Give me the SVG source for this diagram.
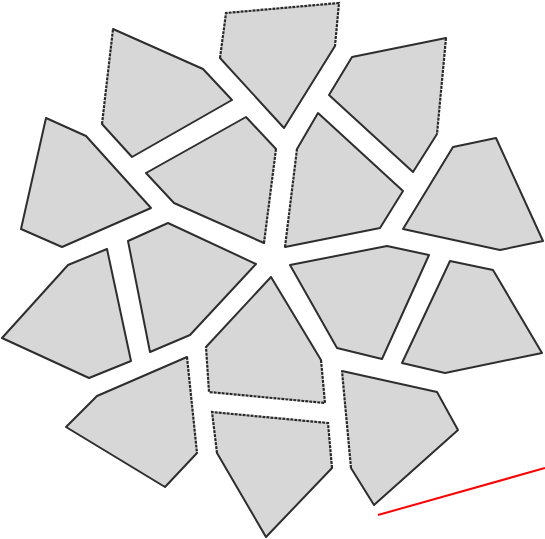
<svg xmlns="http://www.w3.org/2000/svg" width="545" height="539" viewBox="0 0 545 539">
<defs>
<style>
.f{fill:#d7d7d7;stroke:none}
.s{fill:none;stroke:#2e2e2e;stroke-width:2;stroke-linejoin:round;stroke-linecap:round}
.d{fill:none;stroke:#2a2a2a;stroke-width:2.2;stroke-dasharray:3 1}
</style>
</defs>
<rect width="545" height="539" fill="#fff"/>
<g id="A"><path class="f" d="M113,29 L203,69 L232,100 L132,157 L102,124 Z"/><path class="s" d="M113,29 L203,69 L232,100 L132,157 L102,124"/><path class="d" d="M102,124 L113,29"/></g>
<g id="B"><path class="f" d="M46,118 L86,136 L151,208 L62,247 L21,229 Z"/><path class="s" d="M46,118 L86,136 L151,208 L62,247 L21,229 Z"/></g>
<g id="C"><path class="f" d="M246,117 L276,149 L264,243 L174,203 L146,173 Z"/><path class="s" d="M264,243 L174,203 L146,173 L246,117 L276,149"/><path class="d" d="M276,149 L264,243"/></g>
<g id="D"><path class="f" d="M226,13 L339,3 L335,46 L284,128 L220,58 Z"/><path class="s" d="M335,46 L284,128 L220,58"/><path class="d" d="M220,58 L226,13 L339,3 L335,46"/></g>
<g id="E"><path class="f" d="M352,57 L446,38 L437,134 L413,172 L329,95 Z"/><path class="s" d="M437,134 L413,172 L329,95 L352,57 L446,38"/><path class="d" d="M446,38 L437,134"/></g>
<g id="F"><path class="f" d="M318,113 L403,191 L380,228 L285,247 L297,149 Z"/><path class="s" d="M297,149 L318,113 L403,191 L380,228 L285,247"/><path class="d" d="M285,247 L297,149"/></g>
<g id="G"><path class="f" d="M453,147 L496,138 L543,241 L500,250 L403,229 Z"/><path class="s" d="M453,147 L496,138 L543,241 L500,250 L403,229 Z"/></g>
<g id="H"><path class="f" d="M107,249 L68,265 L2,338 L89,378 L131,361 Z"/><path class="s" d="M107,249 L68,265 L2,338 L89,378 L131,361 Z"/></g>
<g id="I"><path class="f" d="M128,241 L168,223 L256,264 L190,335 L150,352 Z"/><path class="s" d="M128,241 L168,223 L256,264 L190,335 L150,352 Z"/></g>
<g id="J"><path class="f" d="M187,357 L197,453 L165,487 L66,427 L97,396 Z"/><path class="s" d="M197,453 L165,487 L66,427 L97,396 L187,357"/><path class="d" d="M187,357 L197,453"/></g>
<g id="K"><path class="f" d="M271,277 L321,360 L325,403 L209,392 L206,347 Z"/><path class="s" d="M206,347 L271,277 L321,360"/><path class="d" d="M321,360 L325,403 L209,392 L206,347"/></g>
<g id="L"><path class="f" d="M212,412 L328,423 L332,468 L266,537 L217,453 Z"/><path class="s" d="M332,468 L266,537 L217,453"/><path class="d" d="M217,453 L212,412 L328,423 L332,468"/></g>
<g id="M"><path class="f" d="M290,265 L387,246 L429,255 L382,359 L337,348 Z"/><path class="s" d="M290,265 L387,246 L429,255 L382,359 L337,348 Z"/></g>
<g id="N"><path class="f" d="M450,261 L493,270 L542,353 L445,373 L402,363 Z"/><path class="s" d="M450,261 L493,270 L542,353 L445,373 L402,363 Z"/></g>
<g id="O"><path class="f" d="M342,371 L437,392 L458,430 L374,505 L351,468 Z"/><path class="s" d="M342,371 L437,392 L458,430 L374,505 L351,468"/><path class="d" d="M351,468 L342,371"/></g>
<line x1="378" y1="515" x2="545" y2="468" stroke="#ff0000" stroke-width="2"/>
</svg>
